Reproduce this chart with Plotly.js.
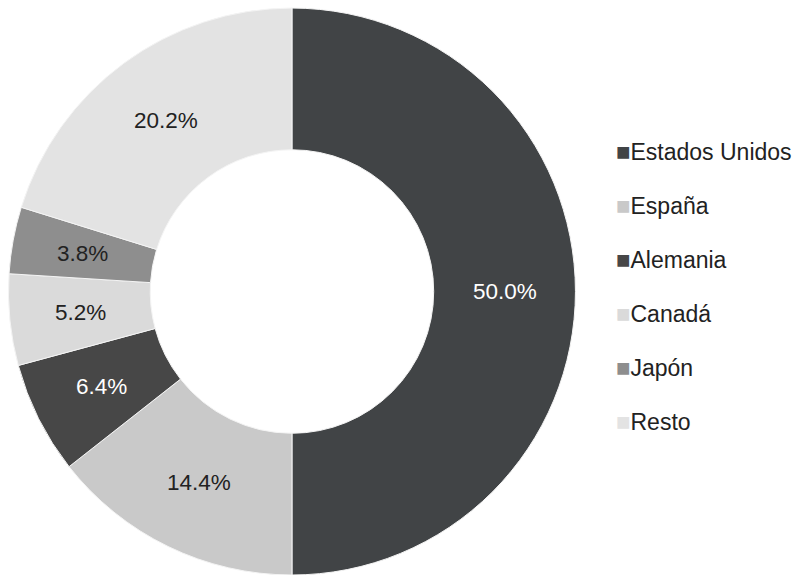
<!DOCTYPE html>
<html><head><meta charset="utf-8">
<script src="https://cdn.plot.ly/plotly-3.0.1.min.js"></script>
<style>html,body{margin:0;padding:0;background:#fff}#chart{width:801px;height:575px}</style>
</head><body><div id="chart"></div>
<script>
const categories = ['Estados Unidos', 'España', 'Alemania', 'Canadá', 'Japón', 'Resto'];
const values = [50.0, 14.4, 6.4, 5.2, 3.8, 20.2];
const colors = ['#414446', '#c9c9c9', '#474747', '#dadada', '#8e8e8e', '#e3e3e3'];
const textColors = ['#ffffff', '#222222', '#ffffff', '#222222', '#222222', '#222222'];

const FONT = 'Liberation Sans, Arial, sans-serif';
const HOLE = 0.5;
const pieDomain = {x: [0.01, 0.719], y: [0.0, 0.986]};

const trace = {
  type: 'pie',
  labels: categories,
  values: values,
  sort: false,
  direction: 'clockwise',
  rotation: 0,
  hole: HOLE,
  marker: {colors: colors, line: {color: '#f4f4f4', width: 1}},
  textinfo: 'none',
  showlegend: false,
  hoverinfo: 'label+percent',
  domain: pieDomain
};

// Slice labels: placed mid-ring on each slice bisector, using a hidden
// axis pair that spans the pie's domain (units of pie radius).
const total = values.reduce((a, b) => a + b, 0);
const rMid = (1 + HOLE) / 2;
let cum = 0;
const labelAnns = values.map((v, i) => {
  const mid = (cum + v / 2) / total * 2 * Math.PI;
  cum += v;
  return {
    xref: 'x', yref: 'y', x: rMid * Math.sin(mid), y: rMid * Math.cos(mid),
    showarrow: false, xanchor: 'center', yanchor: 'middle',
    text: v.toFixed(1) + '%',
    font: {family: FONT, size: 22.5, color: textColors[i]}
  };
});

const legendY0 = 0.7357, legendStep = 0.0936;
const legendAnns = categories.map((c, i) => ({
  xref: 'paper', yref: 'paper', x: 0.767, y: legendY0 - i * legendStep,
  xanchor: 'left', yanchor: 'middle', showarrow: false,
  text: '<span style="color:' + colors[i] + ';font-size:24px">■</span>' + c,
  font: {family: FONT, size: 23, color: '#222222'}
}));

const layout = {
  width: 801, height: 575,
  margin: {l: 0, r: 0, t: 0, b: 0},
  paper_bgcolor: '#ffffff',
  plot_bgcolor: 'rgba(0,0,0,0)',
  showlegend: false,
  xaxis: {domain: pieDomain.x, range: [-1, 1], visible: false, fixedrange: true},
  yaxis: {domain: pieDomain.y, range: [-1, 1], visible: false, fixedrange: true},
  annotations: labelAnns.concat(legendAnns)
};
Plotly.newPlot('chart', [trace], layout, {displayModeBar: false});
</script></body></html>
